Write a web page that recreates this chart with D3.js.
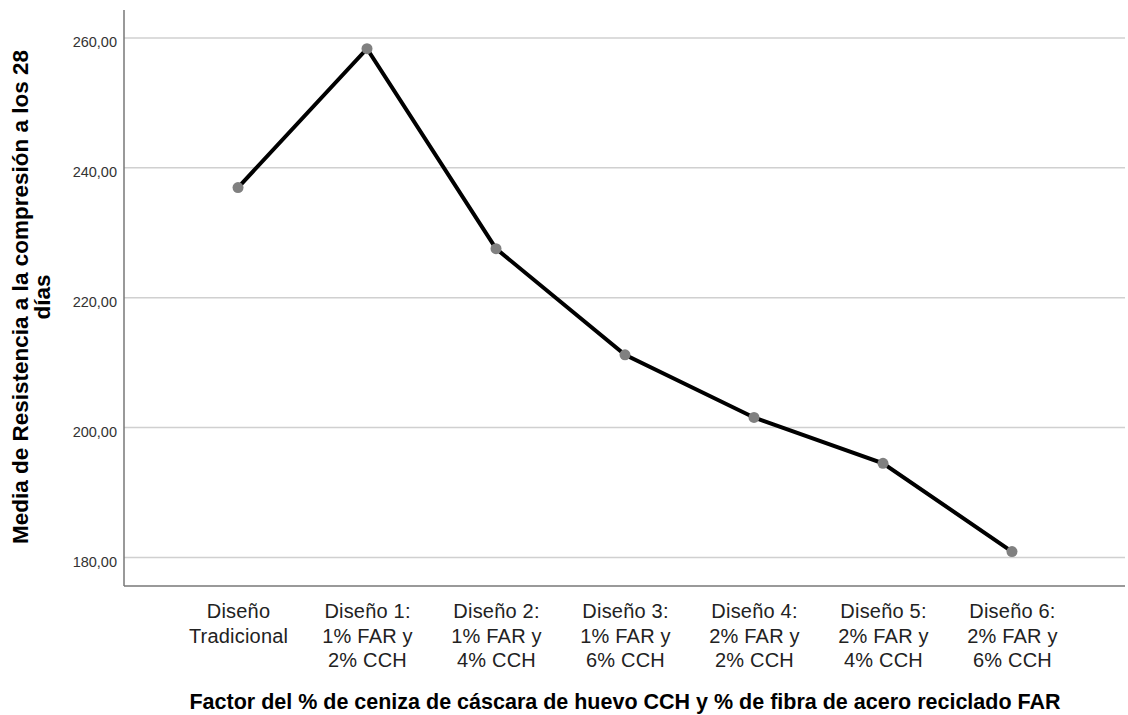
<!DOCTYPE html>
<html>
<head>
<meta charset="utf-8">
<script src="https://cdn.jsdelivr.net/npm/d3@7"></script>
<style>
  html, body { margin: 0; padding: 0; background: #fff; }
  svg { display: block; }
</style>
</head>
<body>
<svg id="chart" width="1128" height="715"></svg>
<script>
// ---- Data ----
const categories = [
  ["Diseño", "Tradicional"],
  ["Diseño 1:", "1% FAR y", "2% CCH"],
  ["Diseño 2:", "1% FAR y", "4% CCH"],
  ["Diseño 3:", "1% FAR y", "6% CCH"],
  ["Diseño 4:", "2% FAR y", "2% CCH"],
  ["Diseño 5:", "2% FAR y", "4% CCH"],
  ["Diseño 6:", "2% FAR y", "6% CCH"]
];
const categoryKeys = ["Tradicional", "D1", "D2", "D3", "D4", "D5", "D6"];
const meanValues = [236.95, 258.35, 227.55, 211.2, 201.55, 194.5, 180.9];
const yTicks = [180, 200, 220, 240, 260];
const yTitleLines = ["Media de Resistencia a la compresión a los 28", "días"];
const xTitle = "Factor del % de ceniza de cáscara de huevo CCH y % de fibra de acero reciclado FAR";

(function () {
// ---- Layout ----
const svg = d3.select("#chart");
const pLeft = 124, pRight = 1126, pTop = 10, pBottom = 586;
const font = "'Liberation Sans', Arial, sans-serif";

const x = d3.scalePoint().domain(categoryKeys).range([pLeft, pRight]).padding(0.884);
const y = d3.scaleLinear().domain([175.6, 264.3]).range([pBottom, pTop]);

// gridlines
svg.append("g").selectAll("line").data(yTicks).join("line")
  .attr("x1", pLeft).attr("x2", pRight - 1)
  .attr("y1", d => y(d)).attr("y2", d => y(d))
  .attr("stroke", "#d0d0d0").attr("stroke-width", 1.5);

// Y axis
const yAxis = d3.axisLeft(y).tickValues(yTicks).tickSize(0).tickPadding(7)
  .tickFormat(d => d3.format(".2f")(d).replace(".", ","));
const gy = svg.append("g").attr("transform", `translate(${pLeft},0)`).call(yAxis);
gy.select(".domain").remove();
gy.selectAll("text").attr("font-family", font).attr("font-size", 14.5)
  .attr("dy", 8.8).attr("fill", "#333");

// X axis (multi-line labels on axis ticks)
const xAxis = d3.axisBottom(x).tickSize(0).tickFormat("");
const gx = svg.append("g").attr("transform", `translate(0,${pBottom})`).call(xAxis);
gx.select(".domain").remove();
gx.selectAll(".tick").each(function(d, i) {
  const t = d3.select(this).append("text")
    .attr("text-anchor", "middle")
    .attr("font-family", font).attr("font-size", 20)
    .attr("letter-spacing", 0.2)
    .attr("fill", "#222");
  categories[i].forEach((line, j) => {
    t.append("tspan").attr("x", 0).attr("y", 32 + j * 24.7).text(line);
  });
});

// axis lines
svg.append("line").attr("x1", pLeft).attr("x2", pLeft).attr("y1", pTop).attr("y2", pBottom)
  .attr("stroke", "#777").attr("stroke-width", 1.5);
svg.append("line").attr("x1", pLeft).attr("x2", pRight - 1).attr("y1", pBottom).attr("y2", pBottom)
  .attr("stroke", "#777").attr("stroke-width", 1.5);

// line
const lineGen = d3.line().x((d, i) => x(categoryKeys[i])).y(d => y(d));
svg.append("path").datum(meanValues).attr("d", lineGen)
  .attr("fill", "none").attr("stroke", "#000").attr("stroke-width", 4)
  .attr("stroke-linejoin", "miter");

// points
svg.append("g").selectAll("circle").data(meanValues).join("circle")
  .attr("cx", (d, i) => x(categoryKeys[i])).attr("cy", d => y(d))
  .attr("r", 5.5).attr("fill", "#808080");

// Y title
const yt = svg.append("text")
  .attr("transform", `translate(0,297) rotate(-90)`)
  .attr("text-anchor", "middle")
  .attr("font-family", font).attr("font-size", 22.5).attr("font-weight", "bold")
  .attr("fill", "#000");
yTitleLines.forEach((line, j) => {
  yt.append("tspan").attr("x", 0).attr("y", 28 + j * 22).text(line);
});

// X title
svg.append("text")
  .attr("x", (pLeft + pRight) / 2).attr("y", 709)
  .attr("text-anchor", "middle")
  .attr("font-family", font).attr("font-size", 21.5).attr("font-weight", "bold")
  .attr("fill", "#000")
  .text(xTitle);
})();
</script>
</body>
</html>
